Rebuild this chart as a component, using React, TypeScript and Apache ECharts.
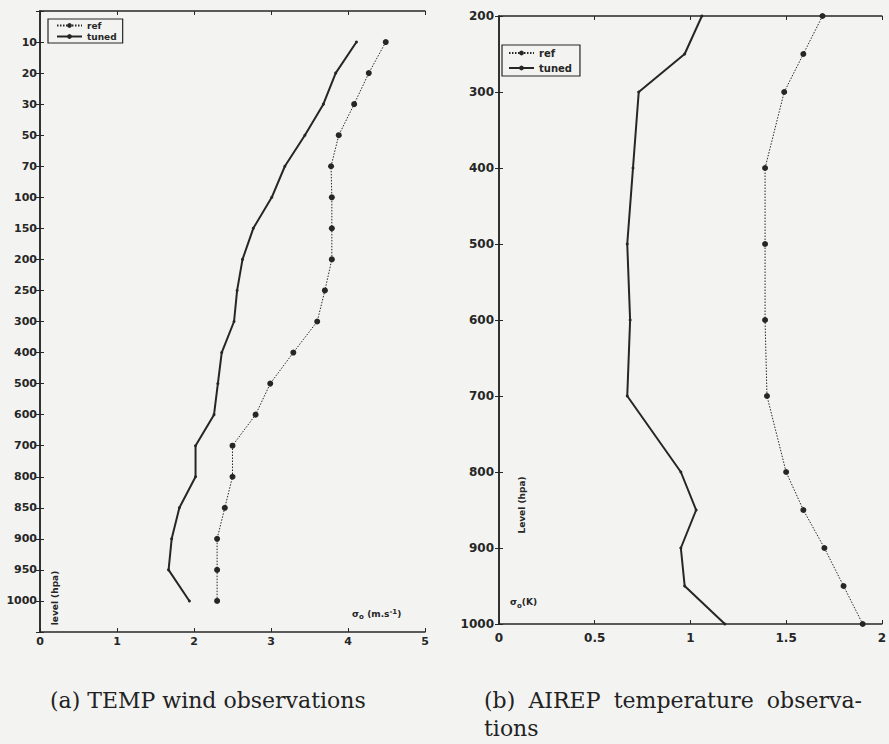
import React, { useEffect, useRef } from "react";
import * as echarts from "echarts";

const levelsA = ["10", "20", "30", "50", "70", "100", "150", "200", "250", "300", "400", "500", "600", "700", "800", "850", "900", "950", "1000"];
const refA = [4.49, 4.27, 4.08, 3.88, 3.78, 3.79, 3.79, 3.79, 3.7, 3.6, 3.29, 2.99, 2.8, 2.5, 2.5, 2.4, 2.3, 2.3, 2.3];
const tunedA = [4.11, 3.84, 3.68, 3.44, 3.18, 3.01, 2.77, 2.63, 2.56, 2.52, 2.36, 2.31, 2.26, 2.02, 2.02, 1.81, 1.71, 1.67, 1.94];

const levelsB = [200, 250, 300, 400, 500, 600, 700, 800, 850, 900, 950, 1000];
const refB = [1.69, 1.59, 1.49, 1.39, 1.39, 1.39, 1.4, 1.5, 1.59, 1.7, 1.8, 1.9];
const tunedB = [1.06, 0.97, 0.73, 0.7, 0.67, 0.685, 0.67, 0.95, 1.03, 0.95, 0.97, 1.18];

const seriesNames = ["ref", "tuned"];
const xTicksA = [0, 1, 2, 3, 4, 5];
const xTicksB = [0, 0.5, 1, 1.5, 2];
const yRangeB = [200, 1000];

const captionA = "(a) TEMP wind observations";
const captionBWords = ["(b)", "AIREP", "temperature", "observa-"];
const captionBLine2 = "tions";

const INK = "#262626";
const BG = "#f3f4f2";
const LABEL_FONT = "DejaVu Sans";
const CAPTION_FONT = "DejaVu Serif";
const CAP = "#222";
const CAP_SIZE = 22;

export default function App() {
  const ref = useRef<HTMLDivElement>(null);
  useEffect(() => {
    if (!ref.current) return;
    const chart = echarts.init(ref.current, undefined, { renderer: "svg" });
    const catA = ["", ...levelsA, ""];
    const axisLine = { show: true, lineStyle: { color: INK, width: 1.5 } };
    const plain = (v: number) => String(v);
    const label = (margin: number, size = 11) => ({
      color: INK,
      fontFamily: LABEL_FONT,
      fontWeight: "bold" as const,
      fontSize: size,
      margin,
    });
    const tick = { show: true, inside: true, length: 4, lineStyle: { color: INK, width: 1 } };
    const lineSeries = (name: string, data: any[], xi: number, yi: number) => {
      const isRef = name === "ref";
      return {
        type: "line",
        name,
        xAxisIndex: xi,
        yAxisIndex: yi,
        data,
        symbol: "circle",
        symbolSize: isRef ? 6 : 3,
        showSymbol: true,
        itemStyle: { color: INK },
        lineStyle: { color: INK, width: isRef ? 1 : 2, type: isRef ? [1.5, 1.5] : "solid" },
        z: isRef ? 3 : 4,
      };
    };
    const legendBase = {
      orient: "vertical",
      data: seriesNames,
      selectedMode: false,
      borderColor: INK,
      borderWidth: 1.2,
      itemWidth: 25,
      itemHeight: 6,
      textStyle: { color: INK, fontFamily: LABEL_FONT, fontWeight: "bold", fontSize: 9 },
    };
    const capFont = `${CAP_SIZE}px "${CAPTION_FONT}"`;
    const capText = (text: string, x: number, y: number) => ({
      type: "text", x, y,
      style: { text, fill: CAP, font: capFont, verticalAlign: "middle", align: "left" },
    });
    // justify caption (b) first line between 484 and 862
    const ctx = document.createElement("canvas").getContext("2d");
    let widths = captionBWords.map((w) => w.length * CAP_SIZE * 0.6);
    if (ctx) {
      ctx.font = capFont;
      widths = captionBWords.map((w) => ctx.measureText(w).width);
    }
    const lineLeft = 484;
    const lineRight = 862;
    const total = widths.reduce((a, b) => a + b, 0);
    const gap = Math.max(6, (lineRight - lineLeft - total) / (captionBWords.length - 1));
    let cursor = lineLeft;
    const bWords = captionBWords.map((w, i) => {
      const g = capText(w, cursor, 700);
      cursor += widths[i] + gap;
      return g;
    });

    chart.setOption({
      animation: false,
      backgroundColor: BG,
      grid: [
        { left: 40, top: 11, width: 385, height: 621 },
        { left: 499, top: 16, width: 388, height: 608 },
      ],
      xAxis: [
        {
          gridIndex: 0, type: "value", min: xTicksA[0], max: xTicksA[xTicksA.length - 1], interval: 1,
          position: "bottom", axisLine, axisTick: tick, splitLine: { show: false }, axisLabel: { ...label(4), formatter: plain },
        },
        {
          gridIndex: 0, type: "value", min: xTicksA[0], max: xTicksA[xTicksA.length - 1], interval: 1,
          position: "top", axisLine, axisTick: tick, splitLine: { show: false }, axisLabel: { show: false },
        },
        {
          gridIndex: 1, type: "value", min: xTicksB[0], max: xTicksB[xTicksB.length - 1], interval: 0.5,
          position: "bottom", axisLine, axisTick: tick, splitLine: { show: false }, axisLabel: { ...label(8, 12), formatter: plain },
        },
        {
          gridIndex: 1, type: "value", min: xTicksB[0], max: xTicksB[xTicksB.length - 1], interval: 0.5,
          position: "top", axisLine, axisTick: tick, splitLine: { show: false }, axisLabel: { show: false },
        },
      ],
      yAxis: [
        {
          gridIndex: 0, type: "category", data: catA, boundaryGap: false, inverse: true, position: "left",
          axisLine, axisTick: { ...tick, interval: 0 }, axisLabel: { ...label(3), interval: 0 }, splitLine: { show: false },
        },
        {
          gridIndex: 0, type: "category", data: catA, boundaryGap: false, inverse: true, position: "right",
          axisLine, axisTick: { ...tick, interval: 0 }, axisLabel: { show: false }, splitLine: { show: false },
        },
        {
          gridIndex: 1, type: "value", min: yRangeB[0], max: yRangeB[1], interval: 100, inverse: true, position: "left",
          axisLine, axisTick: tick, axisLabel: { ...label(5, 12), formatter: plain }, splitLine: { show: false },
        },
        {
          gridIndex: 1, type: "value", min: yRangeB[0], max: yRangeB[1], interval: 100, inverse: true, position: "right",
          axisLine, axisTick: tick, axisLabel: { show: false }, splitLine: { show: false },
        },
      ],
      legend: [
        { ...legendBase, left: 48, top: 19, itemGap: 2, padding: [2, 6, 2, 8] },
        { ...legendBase, left: 502, top: 45, itemGap: 5, padding: [3, 8, 3, 6], textStyle: { ...legendBase.textStyle, fontSize: 10 } },
      ],
      series: [
        lineSeries("ref", refA.map((v, i) => [v, levelsA[i]]), 0, 0),
        lineSeries("tuned", tunedA.map((v, i) => [v, levelsA[i]]), 0, 0),
        lineSeries("ref", refB.map((v, i) => [v, levelsB[i]]), 2, 2),
        lineSeries("tuned", tunedB.map((v, i) => [v, levelsB[i]]), 2, 2),
      ],
      graphic: [
        {
          type: "text", x: 55, y: 598, rotation: Math.PI / 2,
          style: { text: "level (hpa)", fill: INK, font: `bold 9px "${LABEL_FONT}"`, align: "center", verticalAlign: "middle" },
        },
        {
          type: "text", x: 352, y: 614,
          style: {
            text: "{a|σ}{s|o} {a|(m.s}{p|-1}{a|)}",
            fill: INK, verticalAlign: "middle",
            rich: {
              a: { fontFamily: LABEL_FONT, fontWeight: "bold", fontSize: 9, fill: INK },
              s: { fontFamily: LABEL_FONT, fontWeight: "bold", fontSize: 7, fill: INK, padding: [6, 0, 0, 0] },
              p: { fontFamily: LABEL_FONT, fontWeight: "bold", fontSize: 7, fill: INK, padding: [0, 0, 5, 0] },
            },
          },
        },
        {
          type: "text", x: 522, y: 505, rotation: Math.PI / 2,
          style: { text: "Level (hpa)", fill: INK, font: `bold 9px "${LABEL_FONT}"`, align: "center", verticalAlign: "middle" },
        },
        {
          type: "text", x: 510, y: 602,
          style: {
            text: "{a|σ}{s|o}{a|(K)}",
            fill: INK, verticalAlign: "middle",
            rich: {
              a: { fontFamily: LABEL_FONT, fontWeight: "bold", fontSize: 9, fill: INK },
              s: { fontFamily: LABEL_FONT, fontWeight: "bold", fontSize: 7, fill: INK, padding: [7, 0, 0, 0] },
            },
          },
        },
        capText(captionA, 50, 700),
        ...bWords,
        capText(captionBLine2, 484, 728),
      ],
    });
    return () => chart.dispose();
  }, []);
  return (
    <div
      ref={ref}
      style={{ position: "fixed", left: 0, top: 0, width: 889, height: 744, background: BG }}
    />
  );
}
